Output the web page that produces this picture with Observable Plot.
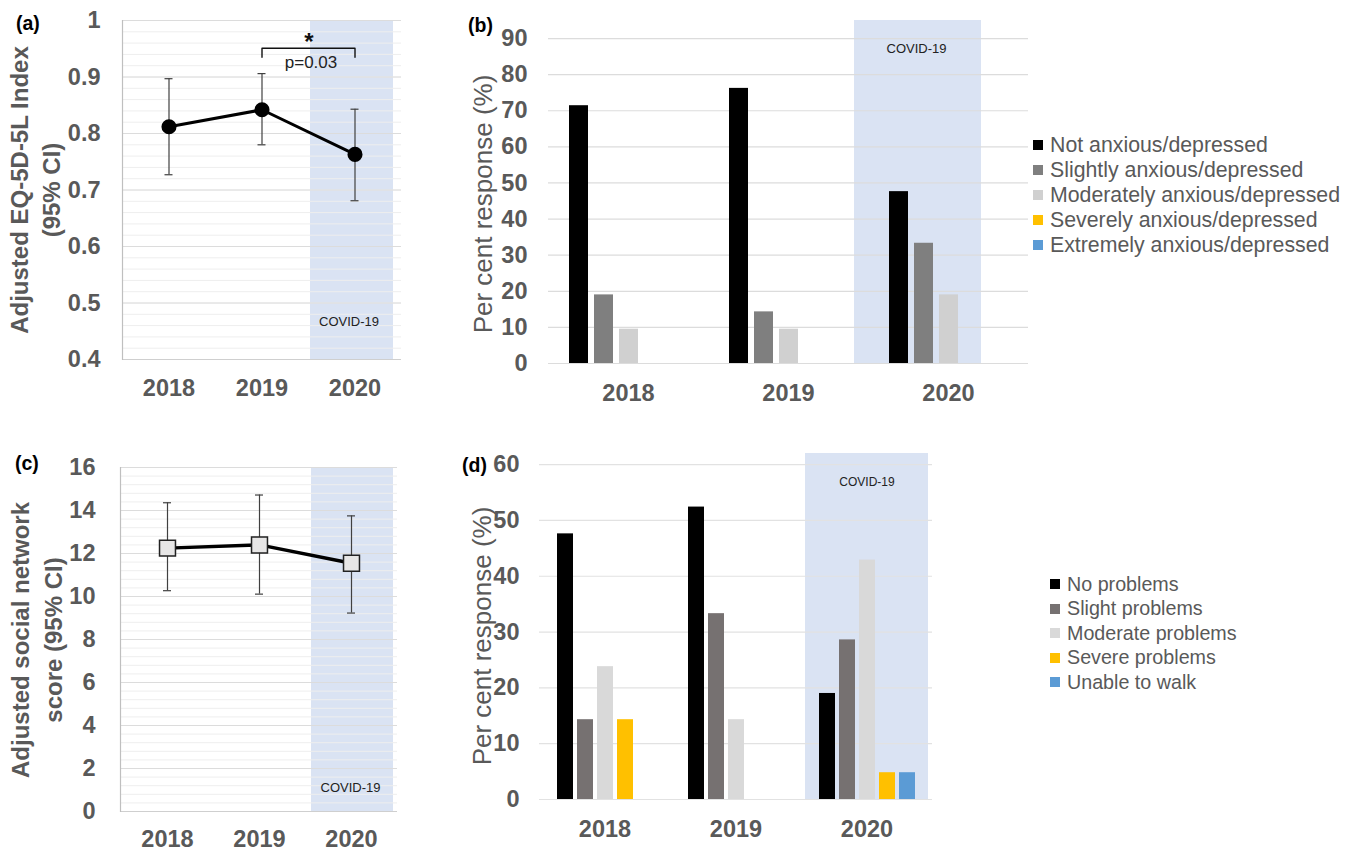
<!DOCTYPE html>
<html><head><meta charset="utf-8">
<script src="https://cdn.jsdelivr.net/npm/d3@7"></script>
<script src="https://cdn.jsdelivr.net/npm/@observablehq/plot@0.6"></script>
<style>
body{margin:0;background:#fff;width:1355px;height:850px;position:relative;overflow:hidden;font-family:"Liberation Sans",Arial,sans-serif;}
.panel{position:absolute;}
.letter{position:absolute;font-weight:bold;font-size:19.5px;line-height:20px;color:#000;}
.ylab{position:absolute;transform:translate(-50%,-50%) rotate(-90deg);white-space:nowrap;text-align:center;color:#595959;}
.legend{position:absolute;color:#595959;}
.legend .row{display:flex;align-items:center;white-space:nowrap;}
.legend .sw{display:inline-block;width:10px;height:10px;margin-right:7px;flex:none;}
</style></head><body>
<script>
// ---------- data ----------
const years = ["2018", "2019", "2020"];

const eqIndex = [0.812, 0.842, 0.763];
const eqLow = [0.727, 0.780, 0.681];
const eqHigh = [0.897, 0.906, 0.843];
const eqTicks = [0.4, 0.5, 0.6, 0.7, 0.8, 0.9, 1];

const socialScore = [12.25, 12.40, 11.55];
const socialLow = [10.27, 10.11, 9.23];
const socialHigh = [14.36, 14.72, 13.75];
const socialTicks = [0, 2, 4, 6, 8, 10, 12, 14, 16];

const anxietyLevels = ["Not anxious/depressed", "Slightly anxious/depressed", "Moderately anxious/depressed", "Severely anxious/depressed", "Extremely anxious/depressed"];
const anxietyColors = ["#000000", "#7f7f7f", "#d0d0d0", "#ffc000", "#5b9bd5"];
const anxNot = [71.4, 76.2, 47.6];
const anxSlight = [19.0, 14.3, 33.3];
const anxModerate = [9.5, 9.5, 19.0];
const anxSevere = [0, 0, 0];
const anxExtreme = [0, 0, 0];
const anxTicks = [0, 10, 20, 30, 40, 50, 60, 70, 80, 90];

const mobilityLevels = ["No problems", "Slight problems", "Moderate problems", "Severe problems", "Unable to walk"];
const mobilityColors = ["#000000", "#767171", "#d9d9d9", "#ffc000", "#5b9bd5"];
const mobNo = [47.6, 52.4, 19.0];
const mobSlight = [14.3, 33.3, 28.6];
const mobModerate = [23.8, 14.3, 42.9];
const mobSevere = [14.3, 0, 4.8];
const mobUnable = [0, 0, 4.8];
const mobTicks = [0, 10, 20, 30, 40, 50, 60];

const covidYear = "2020";
const covidLabel = "COVID-19";
const sigPair = ["2019", "2020"];
const sigStar = "*";
const sigText = "p=0.03";

// ---------- helpers ----------
const FONT = '"Liberation Sans", Arial, sans-serif';
const baseStyle = {fontFamily: FONT, fontSize: "23.5px", fontWeight: "bold", color: "#595959", background: "transparent", overflow: "visible"};
const SHADE = "#dae3f3";

function place(node, left, top) {
  const d = document.createElement("div");
  d.className = "panel";
  d.style.left = left + "px";
  d.style.top = top + "px";
  d.appendChild(node);
  document.body.appendChild(d);
}
function html(cls, text, css) {
  const d = document.createElement("div");
  d.className = cls;
  d.innerHTML = text;
  Object.assign(d.style, css);
  document.body.appendChild(d);
}
function legend(levels, colors, left, top, rowH, fontSize) {
  const d = document.createElement("div");
  d.className = "legend";
  d.style.left = left + "px";
  d.style.top = top + "px";
  d.style.fontSize = fontSize + "px";
  levels.forEach((l, i) => {
    const r = document.createElement("div");
    r.className = "row";
    r.style.height = rowH + "px";
    r.innerHTML = `<span class="sw" style="background:${colors[i]}"></span><span>${l}</span>`;
    d.appendChild(r);
  });
  document.body.appendChild(d);
}

// ---------- (a) EQ-5D-5L index ----------
const eqData = years.map((year, i) => ({year, value: eqIndex[i], low: eqLow[i], high: eqHigh[i]}));
const eqMinor = d3.range(21, 50).map(i => i / 50);
const bracket = [
  {year: sigPair[0], y: 0.935}, {year: sigPair[0], y: 0.951},
  {year: sigPair[1], y: 0.951}, {year: sigPair[1], y: 0.935}
];
const plotA = Plot.plot({
  width: 420, height: 420,
  marginLeft: 122, marginRight: 19, marginTop: 20, marginBottom: 61,
  style: baseStyle,
  x: {domain: years, padding: 0, tickSize: 0, tickPadding: 20, label: null},
  y: {domain: [0.4, 1], ticks: eqTicks, tickFormat: d => d === 1 ? "1" : d.toFixed(1), tickSize: 0, tickPadding: 22, label: null},
  marks: [
    Plot.barY([{year: covidYear, y1: 0.4, y2: 1}], {x: "year", y1: "y1", y2: "y2", fill: SHADE, insetLeft: 2, insetRight: 8}),
    Plot.ruleY(eqMinor, {stroke: "#eeeeee", strokeWidth: 1}),
    Plot.ruleY(eqTicks.slice(1), {stroke: "#dcdcdc", strokeWidth: 1}),
    Plot.ruleY([0.4], {stroke: "#cfcfcf", strokeWidth: 1.2}),
    Plot.frame({anchor: "left", stroke: "#bfbfbf", strokeWidth: 1.2}),
    Plot.text([{year: covidYear, y: 0.467, t: covidLabel}], {x: "year", y: "y", text: "t", dx: -6, fontSize: 13, fontWeight: "normal", fill: "#222"}),
    Plot.ruleX(eqData, {x: "year", y1: "low", y2: "high", stroke: "#404040", strokeWidth: 1.2}),
    Plot.tickY(eqData, {x: "year", y: "low", stroke: "#404040", strokeWidth: 1.2, insetLeft: 42.5, insetRight: 42.5}),
    Plot.tickY(eqData, {x: "year", y: "high", stroke: "#404040", strokeWidth: 1.2, insetLeft: 42.5, insetRight: 42.5}),
    Plot.line(eqData, {x: "year", y: "value", stroke: "#000", strokeWidth: 3}),
    Plot.dot(eqData, {x: "year", y: "value", r: 6.8, fill: "#000", stroke: "#000"}),
    Plot.line(bracket, {x: "year", y: "y", stroke: "#111", strokeWidth: 1.4}),
    Plot.text([{year: sigPair[0], y: 0.962, t: sigStar}], {x: "year", y: "y", text: "t", dx: 47, fontSize: 24, fontWeight: "bold", fill: "#111"}),
    Plot.text([{year: sigPair[0], y: 0.926, t: sigText}], {x: "year", y: "y", text: "t", dx: 49, fontSize: 17, fontWeight: "normal", fill: "#222"})
  ]
});
place(plotA, 0, 0);

// ---------- (c) social network ----------
const socData = years.map((year, i) => ({year, value: socialScore[i], low: socialLow[i], high: socialHigh[i]}));
const socMinor = d3.range(1, 40).map(i => i * 0.4);
const plotC = Plot.plot({
  width: 420, height: 410,
  marginLeft: 120, marginRight: 23, marginTop: 27, marginBottom: 39,
  style: baseStyle,
  x: {domain: years, padding: 0, tickSize: 0, tickPadding: 19, label: null},
  y: {domain: [0, 16], ticks: socialTicks, tickSize: 0, tickPadding: 25, label: null},
  marks: [
    Plot.barY([{year: covidYear, y1: 0, y2: 16}], {x: "year", y1: "y1", y2: "y2", fill: SHADE, insetLeft: 6, insetRight: 4}),
    Plot.ruleY(socMinor, {stroke: "#eeeeee", strokeWidth: 1}),
    Plot.ruleY(socialTicks.slice(1), {stroke: "#dcdcdc", strokeWidth: 1}),
    Plot.ruleY([0], {stroke: "#cfcfcf", strokeWidth: 1.2}),
    Plot.frame({anchor: "left", stroke: "#bfbfbf", strokeWidth: 1.2}),
    Plot.text([{year: covidYear, y: 1.1, t: covidLabel}], {x: "year", y: "y", text: "t", dx: -1, fontSize: 13, fontWeight: "normal", fill: "#222"}),
    Plot.ruleX(socData, {x: "year", y1: "low", y2: "high", stroke: "#404040", strokeWidth: 1.2}),
    Plot.tickY(socData, {x: "year", y: "low", stroke: "#404040", strokeWidth: 1.2, insetLeft: 42, insetRight: 42}),
    Plot.tickY(socData, {x: "year", y: "high", stroke: "#404040", strokeWidth: 1.2, insetLeft: 42, insetRight: 42}),
    Plot.line(socData, {x: "year", y: "value", stroke: "#000", strokeWidth: 3.5}),
    Plot.dot(socData, {x: "year", y: "value", symbol: "square", r: 9, fill: "#e7e6e6", stroke: "#222", strokeWidth: 1.5})
  ]
});
place(plotC, 0, 440);

// ---------- grouped bars ----------
function groupData(levels, series) {
  const out = [];
  years.forEach((year, i) => levels.forEach((level, j) => {
    const v = series[j][i];
    if (v > 0) out.push({year, level, value: v});
  }));
  return out;
}
const anxData = groupData(anxietyLevels, [anxNot, anxSlight, anxModerate, anxSevere, anxExtreme]);
const plotB = Plot.plot({
  width: 620, height: 420,
  marginLeft: 128, marginRight: 12, marginTop: 20, marginBottom: 57,
  style: baseStyle,
  fx: {domain: years, padding: 0, axis: "bottom", tickSize: 0, tickPadding: 21, label: null},
  x: {domain: anxietyLevels, paddingInner: 0.24, paddingOuter: 0.82, axis: null},
  y: {domain: [0, 95], ticks: anxTicks, tickSize: 0, tickPadding: 21, label: null},
  color: {domain: anxietyLevels, range: anxietyColors},
  marks: [
    Plot.barY([{year: covidYear, y1: 0, y2: 95}], {fx: "year", y1: "y1", y2: "y2", fill: SHADE, insetLeft: -14, insetRight: 47}),
    Plot.ruleY(anxTicks, {stroke: "#dcdcdc", strokeWidth: 1.2}),
    Plot.text([{year: covidYear, y: 87.2, t: covidLabel}], {fx: "year", y: "y", text: "t", dx: -32, fontSize: 13, fontWeight: "normal", fill: "#222"}),
    Plot.barY(anxData, {fx: "year", x: "level", y: "value", fill: "level"})
  ]
});
place(plotB, 420, 0);

const mobData = groupData(mobilityLevels, [mobNo, mobSlight, mobModerate, mobSevere, mobUnable]);
const plotD = Plot.plot({
  width: 560, height: 410,
  marginLeft: 118, marginRight: 47, marginTop: 13, marginBottom: 51,
  style: baseStyle,
  fx: {domain: years, padding: 0, axis: "bottom", tickSize: 0, tickPadding: 21, label: null},
  x: {domain: mobilityLevels, paddingInner: 0.2, paddingOuter: 0.81, axis: null},
  y: {domain: [0, 62], ticks: mobTicks, tickSize: 0, tickPadding: 20, label: null},
  color: {domain: mobilityLevels, range: mobilityColors},
  marks: [
    Plot.barY([{year: covidYear, y1: 0, y2: 62}], {fx: "year", y1: "y1", y2: "y2", fill: SHADE, insetLeft: 4, insetRight: 4}),
    Plot.ruleY(mobTicks, {stroke: "#e2e2e2", strokeWidth: 1.2}),
    Plot.text([{year: covidYear, y: 56.8, t: covidLabel}], {fx: "year", y: "y", text: "t", fontSize: 12, fontWeight: "normal", fill: "#222"}),
    Plot.barY(mobData, {fx: "year", x: "level", y: "value", fill: "level"})
  ]
});
place(plotD, 420, 440);

// ---------- panel letters and axis titles ----------
html("letter", "(a)", {left: "16px", top: "13px"});
html("letter", "(b)", {left: "468px", top: "15px"});
html("letter", "(c)", {left: "15px", top: "453px"});
html("letter", "(d)", {left: "462px", top: "455px"});

html("ylab", "Adjusted EQ-5D-5L Index<br>(95% CI)", {left: "36px", top: "190px", fontSize: "24px", fontWeight: "bold", lineHeight: "32px"});
html("ylab", "Adjusted social network<br>score (95% CI)", {left: "37px", top: "640px", fontSize: "24px", fontWeight: "bold", lineHeight: "33px"});
html("ylab", "Per cent response (%)", {left: "483px", top: "204px", fontSize: "26px"});
html("ylab", "Per cent response (%)", {left: "482px", top: "636px", fontSize: "26px"});

// ---------- legends ----------
legend(anxietyLevels, anxietyColors, 1033, 132.5, 25, 21.3);
legend(mobilityLevels, mobilityColors, 1050, 571.75, 24.5, 19.7);
</script>
</body></html>
